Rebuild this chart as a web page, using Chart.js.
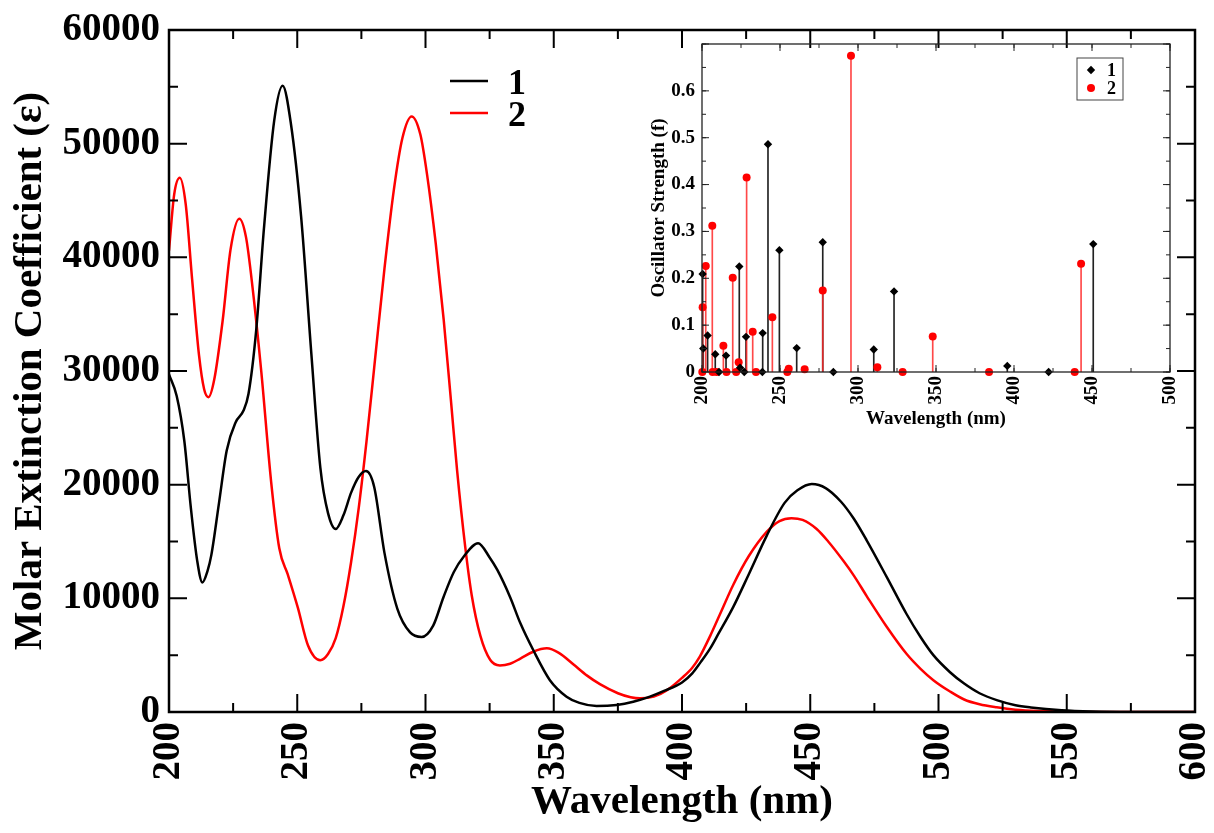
<!DOCTYPE html>
<html>
<head>
<meta charset="utf-8">
<script src="https://cdn.jsdelivr.net/npm/chart.js@4.4.1/dist/chart.umd.min.js"></script>
<style>
  html, body { margin: 0; padding: 0; background: #fff; }
  #wrap { position: relative; width: 1214px; height: 833px; }
  #mainChart { position: absolute; left: 0; top: 0; }
  #insetChart { position: absolute; left: 620px; top: 36px; }
</style>
</head>
<body>
<div id="wrap">
  <canvas id="mainChart" width="1214" height="833"></canvas>
  <canvas id="insetChart" width="580" height="400"></canvas>
</div>
<script>
// ---- absorption spectra (main plot) ----
const seriesLabels = ["1", "2"];

const wl1 = [200, 203, 206, 208.5, 211, 213, 215, 216.5, 219.5, 222.5,
  226, 229, 231, 234, 237, 241, 244.3, 247.5, 251.5, 255.5,
  259, 262, 265, 268, 271, 274, 276.8, 280, 284, 289,
  294, 298.5, 303, 307, 311, 315, 320.5, 325, 328, 333,
  337, 342, 348.5, 355, 360, 366.7, 374.5, 381, 387.5, 393,
  400, 404, 407, 411, 414, 420, 426, 433, 440, 445,
  450.6, 456, 462, 467, 472, 480, 487.6, 493, 498, 504.5,
  510, 516, 522.7, 530, 536, 548, 560, 575, 600];
const eps1 = [29700, 27800, 23800, 18000, 13300, 11400, 12400, 13800, 18400, 23000,
  25500, 26500, 28000, 33600, 42500, 52000, 55100, 51800, 43600, 31500,
  21500, 17500, 16100, 17300, 19300, 20700, 21200, 19800, 14000, 9100,
  7000, 6600, 7600, 10100, 12300, 13700, 14850, 13600, 12500, 10100,
  7800, 5450, 2800, 1350, 800, 530, 620, 900, 1350, 1850,
  2600, 3400, 4300, 5600, 6800, 9250, 12100, 15500, 18400, 19500,
  20050, 19700, 18500, 17000, 15100, 11800, 8600, 6600, 5000, 3500,
  2500, 1650, 1050, 600, 400, 150, 40, 0, 0];

const wl2 = [200, 202, 204.2, 206.5, 209, 211.7, 213.7, 215.4, 217.6, 220.9,
  224, 227.4, 230, 232.6, 236, 239.8, 243, 246.3, 250.2, 254.2,
  259, 262, 265, 268, 271, 274, 277, 280, 284, 287.7,
  291, 294.6, 298, 300.6, 304, 307.1, 310, 312.3, 315.5, 318,
  321.4, 325.2, 329, 333, 337, 342, 347.3, 352, 357.6, 363,
  368, 375, 380, 383.6, 389, 394, 400, 404, 407, 411,
  414.8, 420, 426, 433, 438, 442.7, 447, 452.5, 457, 462.9,
  467, 472, 479.8, 487.6, 493, 498, 504.5, 510, 516, 522.7,
  530, 540, 555, 600];
const eps2 = [40600, 45500, 47000, 44700, 38100, 31400, 28400, 27700, 29200, 34400,
  40700, 43400, 41800, 37300, 29900, 20300, 14400, 12100, 9200, 5850,
  4550, 5100, 6500, 9300, 13200, 18000, 23800, 30300, 39000, 46000,
  50500, 52400, 50800, 47300, 41200, 34500, 27200, 21300, 14500, 10300,
  6700, 4600, 4100, 4250, 4700, 5300, 5600, 5200, 4200, 3200,
  2450, 1650, 1300, 1200, 1350, 1900, 3000, 3900, 4900, 6700,
  8600, 11200, 13700, 15850, 16800, 17050, 16900, 16100, 15000, 13300,
  12000, 10200, 7500, 5100, 3800, 2800, 1800, 1100, 680, 410,
  200, 80, 10, 0];

// ---- oscillator strengths (inset) ----
const stickWl1 = [200.4, 200.8, 203.6, 208.5, 210.9, 215.4, 223.9, 224.4, 227.1, 228.2,
  238.7, 238.9, 242.3, 249.6, 260.7, 277.4, 284.2, 310.1, 323.1, 395.7, 422.2, 450.8];
const stickF1 = [0.209, 0.050, 0.078, 0.038, 0.000, 0.035, 0.225, 0.009, 0.000, 0.075,
  0.000, 0.083, 0.486, 0.260, 0.051, 0.277, 0.000, 0.048, 0.172, 0.013, 0.000, 0.273];

const stickWl2 = [200.2, 200.4, 202.4, 206.6, 206.8, 209.4, 213.7, 215.7, 219.7, 221.9,
  223.5, 228.6, 232.5, 234.6, 245.1, 254.7, 255.6, 265.8, 277.4, 295.5,
  312.4, 328.6, 347.9, 384.0, 438.9, 443.0];
const stickF2 = [0.000, 0.138, 0.226, 0.312, 0.000, 0.000, 0.056, 0.000, 0.201, 0.000,
  0.021, 0.415, 0.086, 0.000, 0.117, 0.000, 0.007, 0.006, 0.174, 0.675,
  0.010, 0.000, 0.076, 0.000, 0.000, 0.231];

const FONT = "'Liberation Serif', 'Times New Roman', serif";
const pairs = (xs, ys) => xs.map((x, i) => ({ x: x, y: ys[i] }));

// inward ticks on all four sides + frame, xmgrace style
const tickFrame = {
  id: 'tickFrame',
  afterDatasetsDraw(chart, args, o) {
    const { ctx, chartArea: a } = chart;
    const xs = chart.scales.x, ys = chart.scales.y;
    ctx.save();
    ctx.strokeStyle = o.color;
    ctx.lineWidth = o.tickWidth;
    ctx.beginPath();
    const marks = (scale, step, len, horiz) => {
      const n = Math.round((scale.max - scale.min) / step);
      for (let i = 0; i <= n; i++) {
        const p = scale.getPixelForValue(scale.min + i * step);
        if (horiz) {
          ctx.moveTo(p, a.bottom); ctx.lineTo(p, a.bottom - len);
          ctx.moveTo(p, a.top); ctx.lineTo(p, a.top + len);
        } else {
          ctx.moveTo(a.left, p); ctx.lineTo(a.left + len, p);
          ctx.moveTo(a.right, p); ctx.lineTo(a.right - len, p);
        }
      }
    };
    marks(xs, o.xMinor, o.minorLen, true);
    marks(xs, o.xMajor, o.majorLen, true);
    marks(ys, o.yMinor, o.minorLen, false);
    marks(ys, o.yMajor, o.majorLen, false);
    ctx.stroke();
    ctx.lineWidth = o.frameWidth;
    ctx.strokeRect(a.left, a.top, a.width, a.height);
    ctx.restore();
  }
};

// line legend inside the main plot
const lineLegend = {
  id: 'lineLegend',
  afterDraw(chart, args, o) {
    const ctx = chart.ctx;
    ctx.save();
    ctx.font = "bold " + o.size + "px " + FONT;
    ctx.textBaseline = 'middle';
    chart.data.datasets.forEach((ds, i) => {
      const yy = o.y + i * o.gap;
      ctx.strokeStyle = ds.borderColor;
      ctx.lineWidth = ds.borderWidth;
      ctx.beginPath();
      ctx.moveTo(o.x, yy);
      ctx.lineTo(o.x + o.len, yy);
      ctx.stroke();
      ctx.fillStyle = '#000';
      ctx.fillText(ds.label, o.x + o.len + o.textGap, yy + o.textDy);
    });
    ctx.restore();
  }
};

// boxed marker legend for the inset
const markerLegend = {
  id: 'markerLegend',
  afterDraw(chart, args, o) {
    const ctx = chart.ctx;
    ctx.save();
    ctx.strokeStyle = '#444';
    ctx.lineWidth = 1;
    ctx.strokeRect(o.left, o.top, o.width, o.height);
    ctx.font = "bold " + o.size + "px " + FONT;
    ctx.textBaseline = 'middle';
    chart.data.datasets.filter(d => d.type === 'scatter').forEach((d, i) => {
      const yy = o.top + o.firstRow + i * o.rowGap;
      ctx.fillStyle = d.backgroundColor;
      Chart.helpers.drawPoint(ctx, { pointStyle: d.pointStyle, radius: d.pointRadius, rotation: 0, borderWidth: 0 }, o.left + o.markX, yy);
      ctx.fillStyle = '#000';
      ctx.fillText(d.label, o.left + o.textX, yy + 1);
    });
    ctx.restore();
  }
};

// keep the plot box where it is in the figure: no label-driven padding
function noPad(s) {
  s.paddingLeft = 0; s.paddingRight = 0; s.paddingTop = 0; s.paddingBottom = 0;
}

new Chart(document.getElementById('mainChart'), {
  type: 'line',
  data: {
    datasets: [
      { label: seriesLabels[0], data: pairs(wl1, eps1), borderColor: '#000000', borderWidth: 2.5,
        pointRadius: 0, cubicInterpolationMode: 'monotone', fill: false },
      { label: seriesLabels[1], data: pairs(wl2, eps2), borderColor: '#ff0000', borderWidth: 2.5,
        pointRadius: 0, cubicInterpolationMode: 'monotone', fill: false }
    ]
  },
  options: {
    responsive: false,
    animation: false,
    layout: { padding: { top: 30, right: 19, left: 0, bottom: 0 } },
    plugins: {
      legend: { display: false },
      tooltip: { enabled: false },
      tickFrame: { color: '#000', tickWidth: 2, frameWidth: 2.5, majorLen: 18, minorLen: 9,
        xMajor: 50, xMinor: 25, yMajor: 10000, yMinor: 5000 },
      lineLegend: { x: 450, y: 81, gap: 32, len: 38, textGap: 20, textDy: 4, size: 36 }
    },
    scales: {
      x: {
        type: 'linear', min: 200, max: 600, offset: false,
        grid: { display: false, drawTicks: false }, border: { display: false },
        ticks: { stepSize: 50, autoSkip: false, minRotation: 90, maxRotation: 90, padding: 10,
          color: '#000', font: { family: FONT, size: 39, weight: 'bold' } },
        title: { display: true, text: 'Wavelength (nm)', color: '#000', padding: { top: 0, bottom: 6 },
          font: { family: FONT, size: 41, weight: 'bold' } },
        afterFit(s) { s.height = 121; noPad(s); }
      },
      y: {
        min: 0, max: 60000,
        grid: { display: false, drawTicks: false }, border: { display: false },
        ticks: { stepSize: 10000, padding: 9, color: '#000',
          font: { family: FONT, size: 39, weight: 'bold' },
          callback: v => String(v) },
        title: { display: true, text: 'Molar Extinction Coefficient (\u03b5)', color: '#000',
          padding: { top: 6, bottom: 0 }, font: { family: FONT, size: 41, weight: 'bold' } },
        afterFit(s) { s.width = 169; noPad(s); }
      }
    }
  },
  plugins: [tickFrame, lineLegend]
});

new Chart(document.getElementById('insetChart'), {
  type: 'scatter',
  data: {
    datasets: [
      { type: 'bar', label: 'stick1', data: pairs(stickWl1, stickF1), backgroundColor: '#222',
        barThickness: 1, grouped: false, order: 3 },
      { type: 'bar', label: 'stick2', data: pairs(stickWl2, stickF2), backgroundColor: 'rgba(255,40,40,0.85)',
        barThickness: 1, grouped: false, order: 2 },
      { type: 'scatter', label: seriesLabels[0], data: pairs(stickWl1, stickF1), pointStyle: 'rectRot',
        pointRadius: 4.2, backgroundColor: '#000', borderWidth: 0, clip: false, order: 0 },
      { type: 'scatter', label: seriesLabels[1], data: pairs(stickWl2, stickF2), pointStyle: 'circle',
        pointRadius: 4, backgroundColor: '#ff0000', borderWidth: 0, clip: false, order: 1 }
    ]
  },
  options: {
    responsive: false,
    animation: false,
    layout: { padding: { top: 8, right: 30, left: 0, bottom: 0 } },
    plugins: {
      legend: { display: false },
      tooltip: { enabled: false },
      tickFrame: { color: '#222', tickWidth: 1, frameWidth: 1.3, majorLen: 7, minorLen: 4,
        xMajor: 50, xMinor: 25, yMajor: 0.1, yMinor: 0.05 },
      markerLegend: { left: 457, top: 22, width: 46, height: 42, markX: 14, textX: 30,
        firstRow: 12, rowGap: 18, size: 18 }
    },
    scales: {
      x: {
        type: 'linear', min: 200, max: 500, offset: false,
        grid: { display: false, drawTicks: false }, border: { display: false },
        ticks: { stepSize: 50, autoSkip: false, minRotation: 90, maxRotation: 90, padding: 4,
          color: '#000', font: { family: FONT, size: 19, weight: 'bold' } },
        title: { display: true, text: 'Wavelength (nm)', color: '#000', padding: { top: 0, bottom: 6 },
          font: { family: FONT, size: 19, weight: 'bold' } },
        afterFit(s) { s.height = 64; noPad(s); }
      },
      y: {
        min: 0, max: 0.7,
        grid: { display: false, drawTicks: false }, border: { display: false },
        ticks: { stepSize: 0.1, padding: 7, color: '#000',
          font: { family: FONT, size: 19, weight: 'bold' },
          callback: v => (v > 0.65 ? '' : String(Number(v.toFixed(1)))) },
        title: { display: true, text: 'Oscillator Strength (f)', color: '#000',
          padding: { top: 28, bottom: 0 }, font: { family: FONT, size: 19, weight: 'bold' } },
        afterFit(s) { s.width = 82; noPad(s); }
      }
    }
  },
  plugins: [tickFrame, markerLegend]
});
</script>
</body>
</html>
